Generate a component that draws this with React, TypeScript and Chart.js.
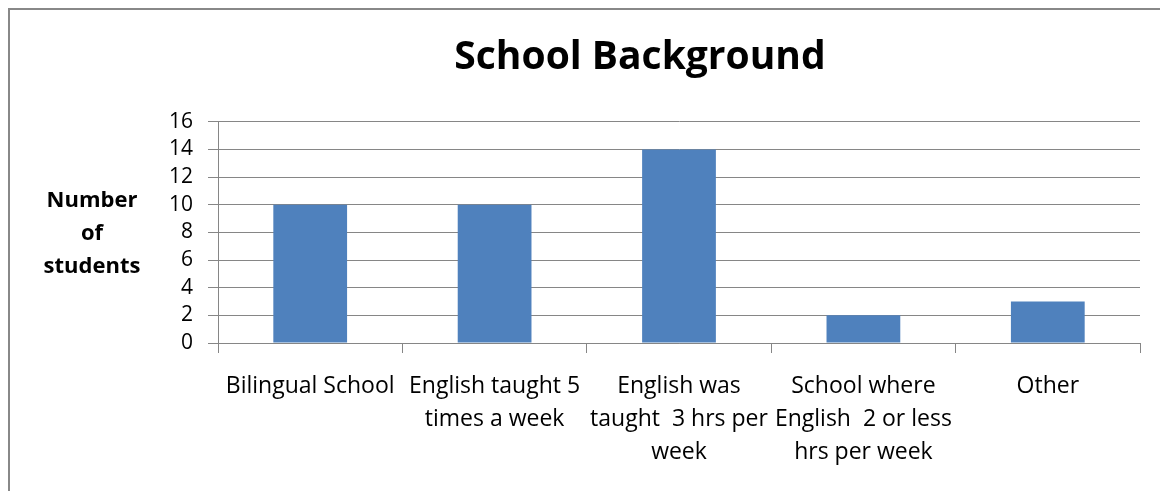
import React, { useEffect, useRef } from "react";
import { Chart, registerables } from "chart.js";

Chart.register(...registerables);

const chartTitle = "School Background";
const yAxisTitleLines = ["Number", "of", "students"];
const categories: string[][] = [
  ["Bilingual School"],
  ["English taught 5", "times a week"],
  ["English was", "taught  3 hrs per", "week"],
  ["School where", "English  2 or less", "hrs per week"],
  ["Other"],
];
const studentCounts = [10, 10, 14, 2, 3];
const yMin = 0;
const yMax = 16;
const yStep = 2;

const FONT = "'Open Sans', Lato, sans-serif";
const GRID = "#868686";

const yTitlePlugin = {
  id: "yTitleHorizontal",
  afterDraw(chart: any) {
    const { ctx, chartArea } = chart;
    ctx.save();
    ctx.font = `bold 22px ${FONT}`;
    ctx.fillStyle = "#000";
    ctx.textAlign = "center";
    ctx.textBaseline = "middle";
    const lh = 33;
    const cy = (chartArea.top + chartArea.bottom) / 2 + 1;
    const cx = chartArea.left - 126;
    yAxisTitleLines.forEach((t, i) => {
      ctx.fillText(t, cx, cy + (i - (yAxisTitleLines.length - 1) / 2) * lh);
    });
    ctx.restore();
  },
};

export default function App() {
  const ref = useRef<HTMLCanvasElement | null>(null);
  useEffect(() => {
    if (!ref.current) return;
    const chart = new Chart(ref.current, {
      type: "bar",
      data: {
        labels: categories,
        datasets: [
          {
            label: "Number of students",
            data: studentCounts,
            backgroundColor: "#4F81BD",
            borderWidth: 0,
            categoryPercentage: 1,
            barPercentage: 0.4,
          },
        ],
      },
      options: {
        animation: false,
        responsive: false,
        maintainAspectRatio: false,
        layout: { padding: { left: 140, right: 140, top: 0, bottom: 0 } },
        plugins: {
          legend: { display: false },
          tooltip: { enabled: false },
          title: {
            display: true,
            text: chartTitle,
            color: "#000",
            font: { family: FONT, size: 39, weight: "bold", lineHeight: 1.2 },
            padding: { top: 34, bottom: 41 },
          },
        },
        scales: {
          x: {
            grid: {
              display: true,
              drawOnChartArea: false,
              drawTicks: true,
              tickLength: 10,
              color: GRID,
              offset: true,
            },
            border: { display: true, color: GRID, width: 1 },
            ticks: {
              color: "#000",
              font: { family: FONT, size: 23, lineHeight: 1.435 },
              padding: 17,
              maxRotation: 0,
              autoSkip: false,
            },
            afterFit(scale: any) {
              scale.height = 148;
            },
          },
          y: {
            min: yMin,
            max: yMax,
            grid: {
              color: GRID,
              drawTicks: true,
              tickLength: 10,
              lineWidth: 1,
            },
            border: { display: true, color: GRID, width: 1 },
            ticks: {
              stepSize: yStep,
              autoSkip: false,
              color: "#000",
              font: { family: FONT, size: 21, lineHeight: 1 },
              padding: 15,
            },
            afterFit(scale: any) {
              scale.width = 78;
            },
          },
        },
      },
      plugins: [yTitlePlugin],
    });
    return () => chart.destroy();
  }, []);

  return (
    <div>
      <canvas
        ref={ref}
        width={1280}
        height={491}
        style={{ position: "fixed", left: 0, top: 0, width: 1280, height: 491, background: "#fff" }}
      />
      <div
        style={{
          position: "fixed",
          left: 8,
          top: 8,
          width: 1200,
          height: 600,
          borderLeft: "2px solid #888",
          borderTop: "2px solid #888",
          pointerEvents: "none",
        }}
      />
    </div>
  );
}
